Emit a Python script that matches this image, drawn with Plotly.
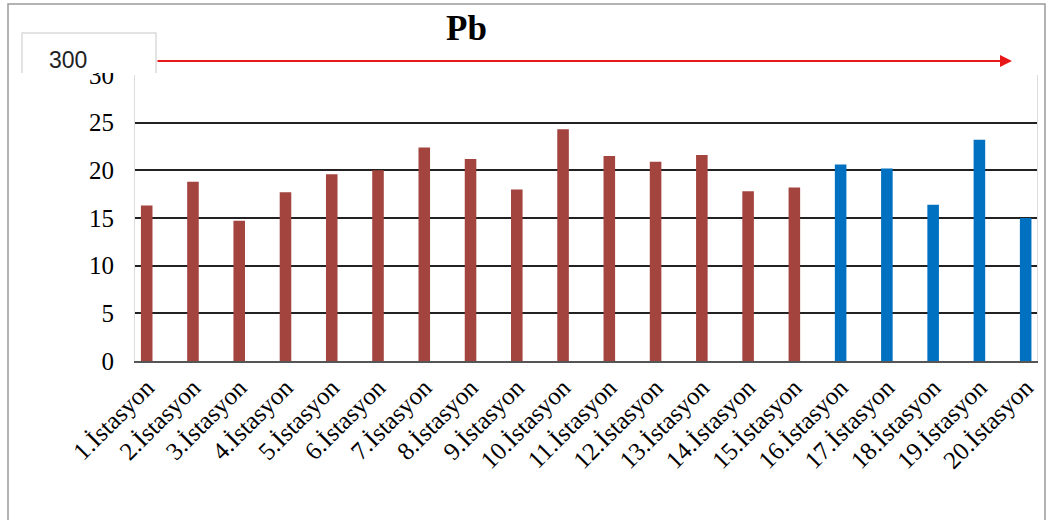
import plotly.graph_objects as go

categories = [f"{i}.İstasyon" for i in range(1, 21)]
values = [16.3, 18.8, 14.7, 17.7, 19.6, 20.0, 22.4, 21.2, 18.0, 24.3,
          21.5, 20.9, 21.6, 17.8, 18.2, 20.6, 20.2, 16.4, 23.2, 15.0]
group = ["a"] * 15 + ["b"] * 5
color_map = {"a": "#A3443F", "b": "#0070C0"}
y_ticks = [0, 5, 10, 15, 20, 25, 30]

W, H = 1052, 520
L, R, T, B = 135, 15, 75, 159

fig = go.Figure(go.Bar(
    x=categories, y=values,
    marker=dict(color=[color_map[g] for g in group], line=dict(width=0)),
    width=0.25,
))

def px(x):
    return (x - L) / (W - L - R)

def py(y):
    return (H - B - y) / (H - T - B)

fig.update_layout(
    width=W, height=H,
    margin=dict(l=L, r=R, t=T, b=B),
    paper_bgcolor="white", plot_bgcolor="white",
    showlegend=False,
    title=dict(text="<b>Pb</b>", x=px(535), xanchor="center", y=1 - 28 / H, yanchor="middle",
               font=dict(family="Liberation Serif", size=35, color="black")),
    xaxis=dict(
        range=[-0.253, 19.245], tickangle=-45,
        tickfont=dict(family="Liberation Serif", size=25, color="black"),
        showline=True, linecolor="#555555", linewidth=2,
        showgrid=False, ticks="", fixedrange=True,
    ),
    yaxis=dict(
        range=[0, 30], tickvals=y_ticks,
        tickfont=dict(family="Liberation Serif", size=25, color="black"),
        showgrid=True, gridcolor="#222222", gridwidth=2,
        showline=True, linecolor="#DDDDDD", linewidth=1, mirror=True,
        zeroline=False, ticks="", ticklabelstandoff=15, fixedrange=True,
    ),
    shapes=[
        # outer chart frame
        dict(type="rect", xref="paper", yref="paper", x0=px(8), x1=px(1045), y0=py(530), y1=py(4),
             line=dict(color="#9A9A9A", width=1.5), layer="below"),
        # box holding "300"
        dict(type="rect", xref="paper", yref="paper", x0=px(22), x1=px(156), y0=py(73), y1=py(33),
             line=dict(width=0), fillcolor="white", layer="above"),
        dict(type="path", xref="paper", yref="paper",
             path=f"M {px(22)},{py(73)} L {px(22)},{py(33)} L {px(156)},{py(33)} L {px(156)},{py(73)}",
             line=dict(color="#DADADA", width=1.5), layer="above"),
    ],
    annotations=[
        dict(text="300", xref="paper", yref="paper", x=px(68), y=py(60), xanchor="center", yanchor="middle",
             showarrow=False, font=dict(family="Liberation Sans", size=23, color="#222222")),
        dict(text="", xref="paper", yref="paper", x=px(1012), y=py(61),
             ax=-(1012 - 156), ay=0, axref="pixel", ayref="pixel",
             showarrow=True, arrowhead=2, arrowsize=1.2, arrowwidth=2, arrowcolor="#E81818"),
    ],
)

fig.write_html("out.html", config={"displayModeBar": False},
               post_script="document.body.style.margin='0px';")
